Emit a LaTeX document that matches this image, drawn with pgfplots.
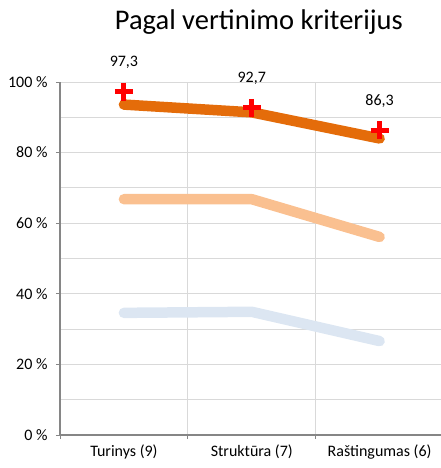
\documentclass[border=0pt]{standalone}
\usepackage{pgfplots}
\pgfplotsset{compat=1.18}
\usepackage{fontspec}
\setmainfont{Carlito}
\definecolor{dorange}{HTML}{E46C0A}
\definecolor{lorange}{HTML}{FAC090}
\definecolor{lblue}{HTML}{DCE6F2}
\definecolor{axgray}{HTML}{868686}
\definecolor{grgray}{HTML}{D9D9D9}
\begin{document}
\begin{tikzpicture}[x=1pt,y=1pt]
\path[use as bounding box] (-60,-33) rectangle (381,435);
\begin{axis}[
  at={(0,0)}, anchor=south west,
  scale only axis, width=381pt, height=353pt,
  xmin=-0.5, xmax=2.48, ymin=0, ymax=100,
  axis x line*=bottom, axis y line*=left,
  axis line style={axgray, line width=1.2pt},
  xtick={0,1,2},
  xticklabels={Turinys (9),Struktūra (7),Raštingumas (6)},
  major x tick style={draw=none},
  minor xtick={-0.5,0.5,1.5},
  minor x tick style={axgray, line width=0.8pt},
  minor tick length=4pt,
  xminorgrids,
  ytick={0,20,40,60,80,100},
  minor ytick={10,30,50,70,90},
  ymajorgrids, yminorgrids,
  major y tick style={axgray, line width=0.8pt},
  minor y tick style={draw=none},
  major tick length=4pt,
  tick align=outside,
  grid style={grgray, line width=0.8pt},
  minor grid style={grgray, line width=0.8pt},
  /pgf/number format/assume math mode=true,
  yticklabel={\pgfmathprintnumber{\tick} \%},
  ticklabel style={font=\fontsize{16}{19}\selectfont, text=black},
  yticklabel style={xshift=-5pt},
  xticklabel style={yshift=-2pt},
  clip=false,
]
\addplot[lblue, line width=10.5pt, line cap=round, line join=round] coordinates {(0,34.6) (1,34.9) (2,26.6)};
\addplot[lorange, line width=10.5pt, line cap=round, line join=round] coordinates {(0,66.8) (1,66.8) (2,56.1)};
\addplot[dorange, line width=10.5pt, line cap=round, line join=round] coordinates {(0,93.6) (1,91.4) (2,84.0)};
\addplot[only marks, mark=+, mark size=9pt, red, line width=5pt,
  point meta=explicit symbolic,
  nodes near coords,
  every node near coord/.append style={anchor=center, yshift=29pt, text=black, font=\fontsize{16}{19}\selectfont}]
  table[meta=lab] {
x y lab
0 97.3 97,3
1 92.7 92,7
2 86.3 86,3
};
\node[font=\fontsize{28.5}{32}\selectfont, anchor=center] at (axis description cs:0.522,1.17) {Pagal vertinimo kriterijus};
\end{axis}
\end{tikzpicture}
\end{document}
